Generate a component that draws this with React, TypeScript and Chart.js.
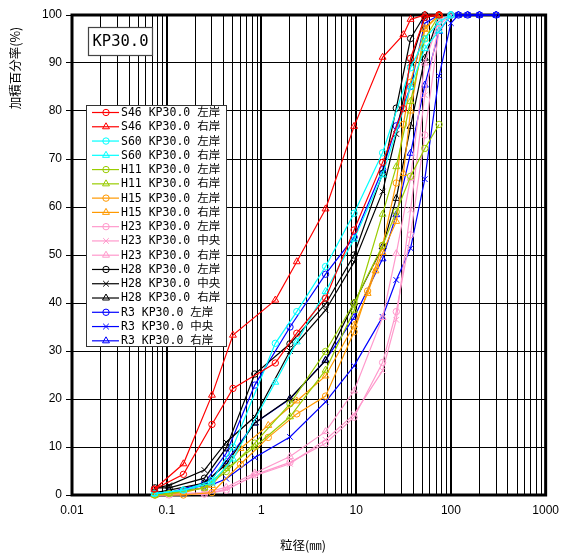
import React, { useEffect, useRef } from 'react';
import { Chart, registerables } from 'chart.js';
import { drawPoint } from 'chart.js/helpers';

Chart.register(...registerables);

// ---- sieve sizes (mm) ----
const SIZES_S46 = [0.074, 0.15, 0.3, 0.5, 1.4, 2.36, 4.75, 9.5, 19, 31.5, 37.5, 53, 75];
const SIZES_S60 = [0.074, 0.15, 0.3, 0.5, 1.4, 2.36, 4.75, 9.5, 19, 37.5, 53, 75, 100];
const SIZES_H11 = [0.075, 0.106, 0.25, 0.425, 0.85, 2, 4.75, 9.5, 19, 26.5, 37.5, 53, 75];
const SIZES_H15 = [0.075, 0.15, 0.3, 0.6, 1.18, 2.36, 4.75, 9.5, 13.2, 16, 19, 26.5, 31.5, 37.5, 53, 75];
const SIZES_STD = [0.075, 0.106, 0.25, 0.425, 0.85, 2, 4.75, 9.5, 19, 26.5, 37.5, 53, 75, 100];
const SIZES_R3 = [0.075, 0.106, 0.25, 0.425, 0.85, 2, 4.75, 9.5, 19, 26.5, 37.5, 53, 75, 100, 120, 150, 200, 300];

// ---- percent passing (%) ----
const S46_LEFT = [1.2, 4.3, 14.7, 22.2, 27.5, 33.7, 41.0, 55.2, 69.3, 80.5, 91.0, 99.5, 100];
const S46_RIGHT = [1.2, 6.5, 20.8, 33.3, 40.6, 48.6, 59.6, 76.8, 91.2, 95.9, 99.1, 100, 100];
const S60_LEFT = [0.3, 1.0, 3.0, 10.0, 31.6, 38.2, 47.6, 58.7, 71.3, 89.0, 95.0, 98.6, 100];
const S60_RIGHT = [0.3, 1.0, 2.5, 7.5, 23.5, 31.9, 42.4, 53.3, 66.7, 85.0, 93.0, 96.7, 100];
const H11_LEFT = [0, 0.3, 1.5, 4.9, 10.8, 19.0, 29.9, 40.0, 52.0, 59.0, 66.4, 72.2, 77.2];
const H11_RIGHT = [0, 0.3, 1.5, 5.5, 10.0, 16.3, 26.0, 38.5, 58.5, 68.4, 82.0, 95.0, 100];
const H15_LEFT = [0, 0, 0.5, 6.4, 12.0, 16.9, 20.6, 34.0, 42.5, 47.5, 52.0, 65.0, 77.2, 86.0, 97.3, 100];
const H15_RIGHT = [0, 0.5, 2.0, 9.7, 14.5, 19.6, 24.8, 35.4, 42.0, 46.7, 50.5, 57.0, 67.0, 80.0, 97.0, 100];
const H23_LEFT = [0, 0, 0.2, 1.0, 4.2, 6.8, 10.8, 16.2, 27.6, 38.2, 54.2, 75.0, 97.0, 100];
const H23_CENTER = [0, 0, 0.2, 1.2, 4.0, 6.5, 11.5, 16.8, 25.9, 36.5, 59.4, 83.3, 98.0, 100];
const H23_RIGHT = [0, 0.2, 0.5, 1.6, 4.6, 8.0, 13.2, 21.7, 37.0, 50.3, 66.0, 90.0, 99.0, 100];
const H28_LEFT = [1.5, 1.5, 3.5, 9.8, 25.2, 31.5, 39.8, 50.0, 67.0, 80.6, 95.1, 100, 100, 100];
const H28_CENTER = [1.5, 2.0, 5.2, 11.0, 16.3, 30.0, 38.5, 48.5, 63.2, 75.2, 90.0, 99.5, 100, 100];
const H28_RIGHT = [0.5, 1.0, 2.5, 6.4, 15.0, 20.1, 28.0, 40.0, 51.7, 61.8, 76.8, 91.0, 100, 100];
const R3_LEFT = [0.3, 0.5, 2.5, 8.7, 22.9, 35.0, 46.0, 53.7, 67.8, 76.9, 85.1, 98.3, 100, 100, 100, 100, 100, 100];
const R3_CENTER = [0.3, 0.5, 1.5, 3.4, 7.8, 12.1, 19.4, 26.9, 37.1, 44.8, 51.4, 65.8, 87.3, 98.3, 100, 100, 100, 100];
const R3_RIGHT = [0.3, 0.5, 2.0, 7.0, 15.0, 20.0, 28.1, 37.0, 49.2, 58.4, 71.2, 85.4, 96.6, 100, 100, 100, 100, 100];

// ---- labels ----
const SERIES_LABELS = [
  'S46 KP30.0 左岸', 'S46 KP30.0 右岸',
  'S60 KP30.0 左岸', 'S60 KP30.0 右岸',
  'H11 KP30.0 左岸', 'H11 KP30.0 右岸',
  'H15 KP30.0 左岸', 'H15 KP30.0 右岸',
  'H23 KP30.0 左岸', 'H23 KP30.0 中央', 'H23 KP30.0 右岸',
  'H28 KP30.0 左岸', 'H28 KP30.0 中央', 'H28 KP30.0 右岸',
  'R3 KP30.0 左岸', 'R3 KP30.0 中央', 'R3 KP30.0 右岸',
];
const X_TICK_LABELS = ['0.01', '0.1', '1', '10', '100', '1000'];
const Y_TICKS = [0, 10, 20, 30, 40, 50, 60, 70, 80, 90, 100];
const X_TITLE = '粒径(㎜)';
const Y_TITLE = '加積百分率(%)';
const PLACE_LABEL = 'KP30.0';

const RED = '#FF0000';
const CYAN = '#00FFFF';
const GREEN = '#99CC00';
const ORANGE = '#FF9900';
const PINK = '#FF99CC';
const BLACK = '#000000';
const BLUE = '#0000FF';

const pts = (xs: number[], ys: number[]) => ys.map((y, i) => ({ x: xs[i], y }));

const SERIES: { xs: number[]; ys: number[]; color: string; style: string }[] = [
  { xs: SIZES_S46, ys: S46_LEFT, color: RED, style: 'circle' },
  { xs: SIZES_S46, ys: S46_RIGHT, color: RED, style: 'triangle' },
  { xs: SIZES_S60, ys: S60_LEFT, color: CYAN, style: 'circle' },
  { xs: SIZES_S60, ys: S60_RIGHT, color: CYAN, style: 'triangle' },
  { xs: SIZES_H11, ys: H11_LEFT, color: GREEN, style: 'circle' },
  { xs: SIZES_H11, ys: H11_RIGHT, color: GREEN, style: 'triangle' },
  { xs: SIZES_H15, ys: H15_LEFT, color: ORANGE, style: 'circle' },
  { xs: SIZES_H15, ys: H15_RIGHT, color: ORANGE, style: 'triangle' },
  { xs: SIZES_STD, ys: H23_LEFT, color: PINK, style: 'circle' },
  { xs: SIZES_STD, ys: H23_CENTER, color: PINK, style: 'crossRot' },
  { xs: SIZES_STD, ys: H23_RIGHT, color: PINK, style: 'triangle' },
  { xs: SIZES_STD, ys: H28_LEFT, color: BLACK, style: 'circle' },
  { xs: SIZES_STD, ys: H28_CENTER, color: BLACK, style: 'crossRot' },
  { xs: SIZES_STD, ys: H28_RIGHT, color: BLACK, style: 'triangle' },
  { xs: SIZES_R3, ys: R3_LEFT, color: BLUE, style: 'circle' },
  { xs: SIZES_R3, ys: R3_CENTER, color: BLUE, style: 'crossRot' },
  { xs: SIZES_R3, ys: R3_RIGHT, color: BLUE, style: 'triangle' },
];

const radiusFor = (s: string) => (s === 'circle' ? 3.2 : 4);

const X_GRID: number[] = [];
for (let e = -2; e <= 2; e++) {
  for (let m = 1; m <= 9; m++) X_GRID.push(parseFloat((m * Math.pow(10, e)).toPrecision(6)));
}
X_GRID.push(1000);
const isDecade = (v: number) => Math.abs(Math.log10(v) - Math.round(Math.log10(v))) < 1e-6;

const MONO = "'DejaVu Sans Mono', 'Noto Sans CJK JP', monospace";

const overlay = {
  id: 'overlay',
  beforeDatasetsDraw(chart: any) {
    const { ctx, chartArea } = chart;
    const { left, top, right, bottom } = chartArea;
    ctx.save();
    ctx.strokeStyle = '#000';
    ctx.lineWidth = 3;
    ctx.strokeRect(left, top, right - left, bottom - top);
    ctx.restore();
  },
  afterDraw(chart: any) {
    const { ctx } = chart;
    ctx.save();
    // KP box
    ctx.fillStyle = '#fff';
    ctx.fillRect(88, 27, 65, 29);
    ctx.strokeStyle = '#444';
    ctx.lineWidth = 1.2;
    ctx.strokeRect(88.5, 27.5, 64, 28);
    ctx.fillStyle = '#000';
    ctx.font = `15.5px ${MONO}`;
    ctx.textAlign = 'center';
    ctx.textBaseline = 'middle';
    ctx.fillText(PLACE_LABEL, 120.5, 42);

    // legend
    const bx = 86.5, by = 105.5, bw = 140, bh = 241;
    ctx.fillStyle = '#fff';
    ctx.fillRect(bx, by, bw, bh);
    ctx.strokeStyle = '#333';
    ctx.lineWidth = 1;
    ctx.strokeRect(bx, by, bw, bh);
    ctx.font = `11.5px ${MONO}`;
    ctx.textAlign = 'left';
    ctx.textBaseline = 'middle';
    SERIES.forEach((s, i) => {
      const y = 112.5 + i * 14.27;
      ctx.strokeStyle = s.color;
      ctx.lineWidth = 1.2;
      ctx.beginPath();
      ctx.moveTo(92, y);
      ctx.lineTo(119, y);
      ctx.stroke();
      ctx.fillStyle = 'rgba(0,0,0,0)';
      ctx.lineWidth = 1;
      drawPoint(ctx, { pointStyle: s.style, radius: radiusFor(s.style), borderWidth: 1, rotation: 0 } as any, 106, y);
      ctx.fillStyle = '#000';
      ctx.fillText(SERIES_LABELS[i], 121, y + 0.5);
    });

    // axis titles
    ctx.fillStyle = '#000';
    ctx.font = "12.5px 'Noto Sans CJK JP', sans-serif";
    ctx.textAlign = 'center';
    ctx.textBaseline = 'middle';
    ctx.fillText(X_TITLE, 303, 545);
    ctx.translate(15, 68);
    ctx.rotate(-Math.PI / 2);
    ctx.fillText(Y_TITLE, 0, 0);
    ctx.restore();
  },
};

export default function App() {
  const ref = useRef<HTMLCanvasElement>(null);
  useEffect(() => {
    const datasets = SERIES.map((s, i) => ({
      label: SERIES_LABELS[i],
      data: pts(s.xs, s.ys),
      showLine: true,
      borderColor: s.color,
      backgroundColor: 'rgba(0,0,0,0)',
      borderWidth: 1.2,
      pointStyle: s.style,
      pointRadius: radiusFor(s.style),
      pointBorderWidth: 1,
      pointBorderColor: s.color,
      pointBackgroundColor: 'rgba(0,0,0,0)',
      clip: false as any,
    }));
    const chart = new Chart(ref.current!, {
      type: 'scatter',
      data: { datasets: datasets as any },
      plugins: [overlay],
      options: {
        animation: false,
        responsive: false,
        devicePixelRatio: 1,
        layout: { padding: { top: 15, right: 15, bottom: 0, left: 0 } },
        plugins: { legend: { display: false }, tooltip: { enabled: false } },
        scales: {
          x: {
            type: 'logarithmic',
            min: 0.01,
            max: 1000,
            afterBuildTicks: (scale: any) => {
              scale.ticks = X_GRID.map((v) => ({ value: v }));
            },
            afterFit: (scale: any) => {
              scale.height = 62;
            },
            ticks: {
              autoSkip: false,
              maxRotation: 0,
              padding: 8,
              color: '#000',
              font: { family: "'Liberation Sans', sans-serif", size: 12 },
              callback: (value: any) => {
                const v = Number(value);
                if (!isDecade(v)) return '';
                const idx = Math.round(Math.log10(v)) + 2;
                return X_TICK_LABELS[idx] ?? '';
              },
            },
            grid: {
              color: '#000',
              lineWidth: (ctx: any) => (ctx.tick && isDecade(ctx.tick.value) ? 2 : 1),
              drawTicks: false,
            },
            border: { display: false },
          },
          y: {
            type: 'linear',
            min: 0,
            max: 100,
            afterBuildTicks: (scale: any) => {
              scale.ticks = Y_TICKS.map((v) => ({ value: v }));
            },
            afterFit: (scale: any) => {
              scale.width = 72;
            },
            ticks: {
              padding: 4,
              color: '#000',
              font: { family: "'Liberation Sans', sans-serif", size: 12 },
            },
            grid: {
              color: '#000',
              lineWidth: 1,
              tickLength: 6,
              tickColor: '#000',
            },
            border: { display: false },
          },
        },
      },
    });
    return () => chart.destroy();
  }, []);
  return (
    <div style={{ position: 'absolute', left: 0, top: 0, width: 567, height: 557, background: '#fff' }}>
      <canvas ref={ref} width={567} height={557} style={{ display: 'block', width: 567, height: 557 }} />
    </div>
  );
}
